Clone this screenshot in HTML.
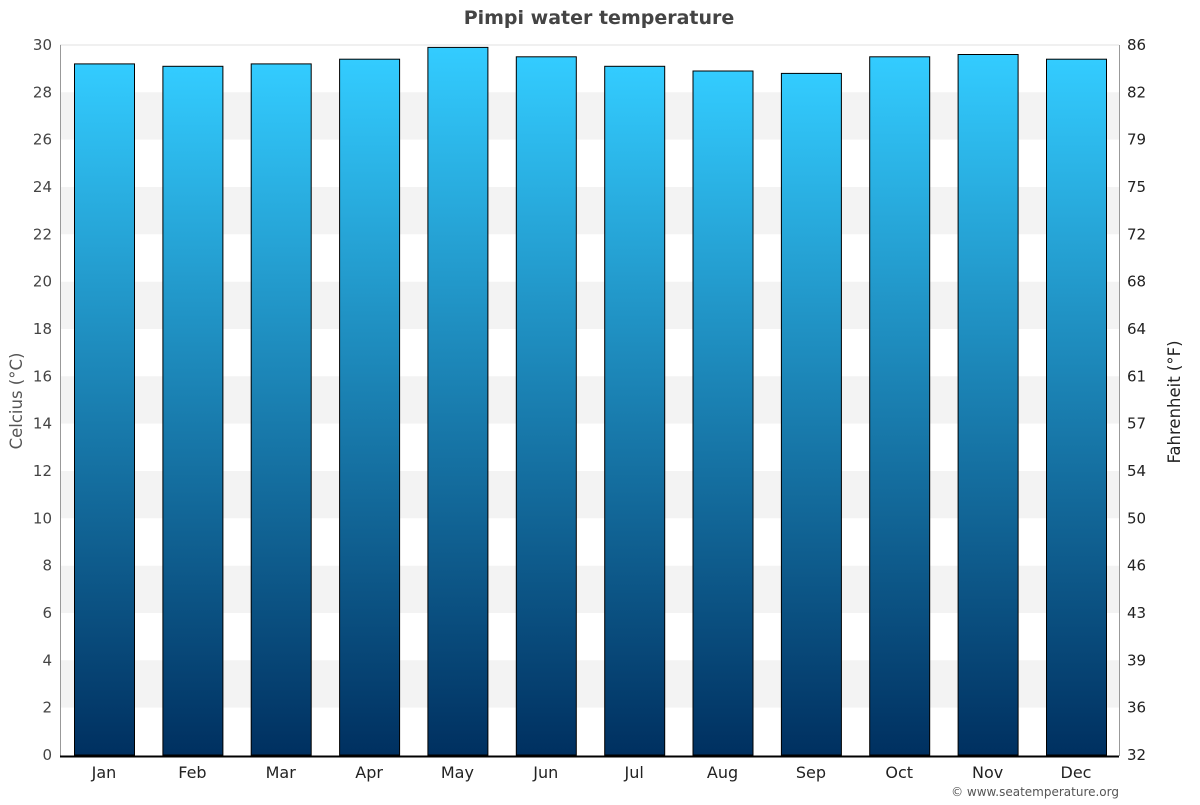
<!DOCTYPE html>
<html><head><meta charset="utf-8"><style>
body{margin:0;background:#fff;}
svg text{font-family:"DejaVu Sans","Liberation Sans",sans-serif;}
</style></head><body>
<svg width="1200" height="800" xmlns="http://www.w3.org/2000/svg">
<defs><linearGradient id="g" x1="0" y1="0" x2="0" y2="1">
<stop offset="0" stop-color="#33ccff"/><stop offset="1" stop-color="#003060"/></linearGradient></defs>
<rect width="1200" height="800" fill="#fff"/>
<g fill="#f3f3f3">
<rect x="60" y="92.3" width="1059" height="47.3"/>
<rect x="60" y="187" width="1059" height="47.3"/>
<rect x="60" y="281.7" width="1059" height="47.3"/>
<rect x="60" y="376.3" width="1059" height="47.3"/>
<rect x="60" y="471" width="1059" height="47.3"/>
<rect x="60" y="565.7" width="1059" height="47.3"/>
<rect x="60" y="660.3" width="1059" height="47.3"/>
</g>
<g stroke="#e0e0e0" stroke-width="1">
<line x1="60" x2="1119" y1="45" y2="45"/>
</g>
<line x1="60.5" y1="45" x2="60.5" y2="756" stroke="#999"/>
<line x1="1119.5" y1="45" x2="1119.5" y2="756" stroke="#999"/>
<g id="bars" fill="url(#g)" stroke="#000" stroke-width="1"></g>
<line x1="60" y1="756.5" x2="1119" y2="756.5" stroke="#000" stroke-width="2"/>
<g id="ticks" font-size="15" fill="#444"></g>
<text x="599" y="24" text-anchor="middle" font-size="19" font-weight="bold" fill="#444">Pimpi water temperature</text>
<text transform="translate(22,401) rotate(-90)" text-anchor="middle" font-size="16.5" fill="#555">Celcius (°C)</text>
<text transform="translate(1180,402) rotate(-90)" text-anchor="middle" font-size="16.5" fill="#222">Fahrenheit (°F)</text>
<text x="1119" y="796" text-anchor="end" font-size="12" fill="#555">© www.seatemperature.org</text>
</svg>
<script>
var ns="http://www.w3.org/2000/svg";
var vals=[29.2,29.1,29.2,29.4,29.9,29.5,29.1,28.9,28.8,29.5,29.6,29.4];
var m=["Jan","Feb","Mar","Apr","May","Jun","Jul","Aug","Sep","Oct","Nov","Dec"];
var b=document.getElementById("bars"),t=document.getElementById("ticks");
function el(p,n,a,txt){var e=document.createElementNS(ns,n);for(var k in a)e.setAttribute(k,a[k]);if(txt!=null)e.textContent=txt;p.appendChild(e);return e;}
var s=710/30;
vals.forEach(function(v,i){var c=104+i*88.36;var y=755-v*s;
el(b,"rect",{x:(c-30+0.5).toFixed(1),y:y.toFixed(1),width:60,height:(755-y).toFixed(1)});
el(t,"text",{x:c.toFixed(1),y:778,"text-anchor":"middle","font-size":16,fill:"#222"},m[i]);});
for(var k=0;k<=15;k++){var y=755-2*k*s;
el(t,"text",{x:52,y:(y+5).toFixed(1),"text-anchor":"end"},String(2*k));
el(t,"text",{x:1127,y:(y+5).toFixed(1),"text-anchor":"start",fill:"#222"},String(Math.round(32+2*k*1.8)));}
</script>
</body></html>
